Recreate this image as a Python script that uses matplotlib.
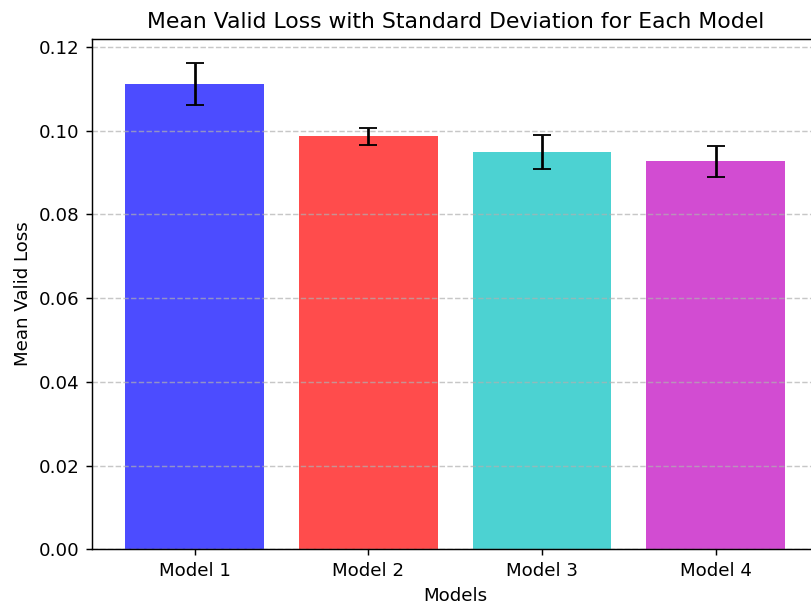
import matplotlib
matplotlib.use("Agg")
import matplotlib.pyplot as plt

# valores
modelos = ['Model 1', 'Model 2', 'Model 3', 'Model 4']
media_loss = [0.1112, 0.0987, 0.0949, 0.0927]
std_loss = [0.0050, 0.0020, 0.0040, 0.0037]
colores = ['blue', 'red', 'c', 'm']

fig = plt.figure(figsize=(811 / 131, 609 / 131), dpi=131)
ax = fig.add_axes([0.114, 0.098, 0.8946, 0.8385])

ax.bar(modelos, media_loss, yerr=std_loss, capsize=5, color=colores, alpha=0.7)
ax.set_xlabel('Models')
ax.set_ylabel('Mean Valid Loss')
ax.set_title('Mean Valid Loss with Standard Deviation for Each Model')
ax.grid(axis='y', linestyle='--', alpha=0.7)

fig.savefig('out.png', dpi=131)
